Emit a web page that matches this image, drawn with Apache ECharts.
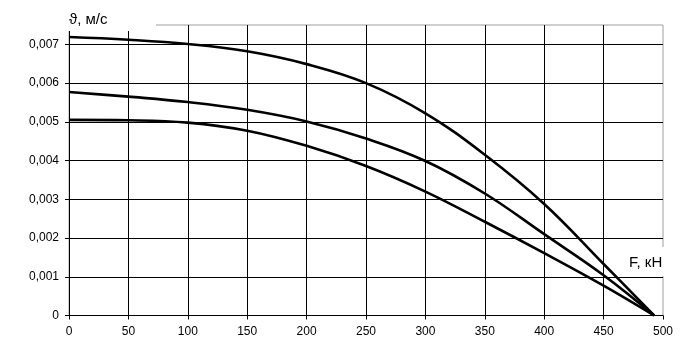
<!DOCTYPE html>
<html>
<head>
<meta charset="utf-8">
<script src="https://cdn.jsdelivr.net/npm/echarts@6/dist/echarts.min.js"></script>
<style>html,body{margin:0;padding:0;background:#fff}#c{width:691px;height:359px}</style>
</head>
<body>
<div id="c"></div>
<script>
const forceKN = [0, 50, 100, 150, 200, 250, 300, 350, 400, 450, 492.5];
const speedTop = [0.00719, 0.00712, 0.00701, 0.00682, 0.00649, 0.00600, 0.00522, 0.00415, 0.00288, 0.00133, 0];
const speedMid = [0.00577, 0.00565, 0.00551, 0.00531, 0.00501, 0.00457, 0.00399, 0.00315, 0.00210, 0.00104, 0];
const speedLow = [0.00505, 0.00504, 0.00498, 0.00477, 0.00438, 0.00386, 0.00320, 0.00242, 0.00161, 0.00077, 0];
const yTitle = 'ϑ, м/с';
const xTitle = 'F, кН';

const font = 'Liberation Sans, Arial, DejaVu Sans, sans-serif';
const pairs = arr => forceKN.map((x, i) => [x, arr[i]]);
const lineSeries = arr => ({
  type: 'line', data: pairs(arr), smooth: 0.4, symbol: 'none',
  lineStyle: { color: '#000', width: 2.6 }, z: 5
});

const chart = echarts.init(document.getElementById('c'), null, { renderer: 'canvas' });
chart.setOption({
  animation: false,
  backgroundColor: '#fff',
  grid: { left: 69, right: 28, top: 25, bottom: 43.5, show: true, borderColor: '#a0a0a0', borderWidth: 1, backgroundColor: 'transparent' },
  xAxis: {
    type: 'value', min: 0, max: 500, interval: 50,
    axisLine: { show: true, lineStyle: { color: '#000', width: 1 } },
    axisTick: { show: true, length: 4, lineStyle: { color: '#000' } },
    axisLabel: { color: '#000', fontFamily: font, fontSize: 12, margin: 10 },
    splitLine: { show: true, showMaxLine: false, lineStyle: { color: '#000', width: 1 } }
  },
  yAxis: {
    type: 'value', min: 0, max: 0.0075, interval: 0.001,
    axisLine: { show: true, lineStyle: { color: '#000', width: 1 } },
    axisTick: { show: true, length: 4, lineStyle: { color: '#000' } },
    axisLabel: {
      color: '#000', fontFamily: font, fontSize: 12, margin: 10,
      formatter: v => {
        if (v === 0) return '0';
        const k = v / 0.001;
        return Math.abs(k - Math.round(k)) < 1e-6 ? v.toFixed(3).replace('.', ',') : '';
      }
    },
    splitLine: { show: true, showMaxLine: false, lineStyle: { color: '#000', width: 1 } }
  },
  graphic: [
    { type: 'rect', z: 100, shape: { x: 0, y: 0, width: 156, height: 31 }, style: { fill: '#fff' } },
    { type: 'text', z: 101, x: 69, y: 20, style: { text: yTitle, fill: '#000', font: '15px ' + font, verticalAlign: 'middle' } },
    { type: 'rect', z: 100, shape: { x: 626, y: 247, width: 45, height: 29 }, style: { fill: '#fff' } },
    { type: 'text', z: 101, x: 629, y: 262.5, style: { text: xTitle, fill: '#000', font: '15px ' + font, verticalAlign: 'middle' } }
  ],
  series: [lineSeries(speedTop), lineSeries(speedMid), lineSeries(speedLow)]
});
</script>
</body>
</html>
